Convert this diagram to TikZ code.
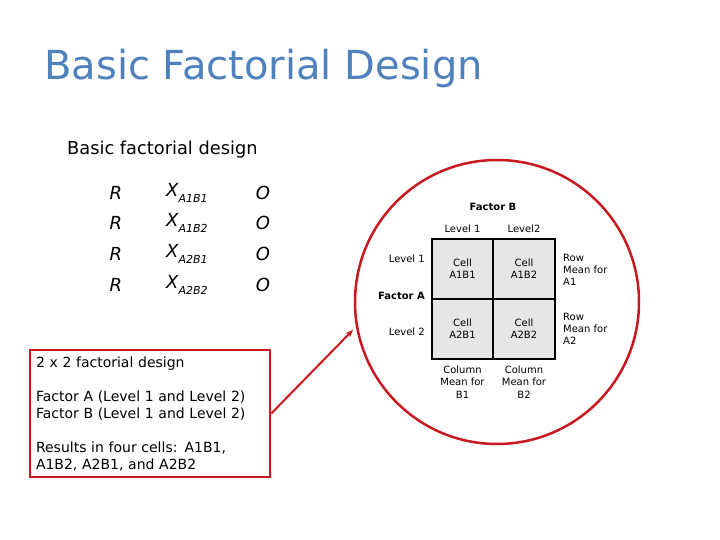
\documentclass[tikz,border=0pt]{standalone}
\usepackage{fontspec}
\setmainfont{DejaVu Sans}
\usetikzlibrary{positioning,arrows.meta}
\definecolor{titleblue}{RGB}{79,129,189}
\definecolor{markred}{RGB}{200,24,32}
\definecolor{cellgray}{RGB}{230,230,230}

\tikzset{
  tiny/.style={font=\fontsize{10}{12.2}\selectfont, inner sep=0pt, align=center},
  tinybold/.style={tiny, font=\fontsize{10}{12.2}\selectfont\bfseries},
  design/.style={font=\fontsize{18}{20}\selectfont\itshape, inner sep=0pt},
  cellbox/.style={tiny, draw=black, line width=2pt, fill=cellgray,
    minimum width=61.5, minimum height=60},
  redline/.style={draw=markred, line width=2.5pt},
}

\begin{document}
\begin{tikzpicture}[x=1pt,y=-1pt]
			\useasboundingbox (0,0) rectangle (720,540);
			% headings
			\node[anchor=west, text=titleblue, font=\fontsize{40}{46}\selectfont, inner sep=0pt] (title) at (44,68) {Basic Factorial Design};
			\node[anchor=west, font=\fontsize{17.8}{20}\selectfont, inner sep=0pt] (sub) at (67,150) {Basic factorial design};
			% design notation
			\foreach \y/\s [count=\i] in {193/A1B1,223/A1B2,254/A2B1,285/A2B2}{
				\node[design] (r\i) at (116,\y) {R};
				\node[design, anchor=west] (x\i) at (166,\y) {X\raisebox{-0.33em}{\fontsize{11}{11}\selectfont\itshape\s}};
				\node[design] (o\i) at (263,\y) {O};
			}
			% 2x2 table
			\node[cellbox] (c11) at (462.5,268.5) {Cell\\A1B1};
			\node[cellbox] (c12) at (524,268.5) {Cell\\A1B2};
			\node[cellbox] (c21) at (462.5,328.5) {Cell\\A2B1};
			\node[cellbox] (c22) at (524,328.5) {Cell\\A2B2};
			\node[tinybold] (fb) at (493,207) {Factor B};
			\node[tiny] (b1) at (462.5,229) {Level 1};
			\node[tiny] (b2) at (524,229) {Level2};
			\node[tiny, anchor=east] (a1) at (425,259) {Level 1};
			\node[tinybold, anchor=east] (fa) at (425,296) {Factor A};
			\node[tiny, anchor=east] (a2) at (425,332) {Level 2};
			\node[tiny, anchor=west, align=left] (rm1) at (563,270) {Row\\Mean for\\A1};
			\node[tiny, anchor=west, align=left] (rm2) at (563,329) {Row\\Mean for\\A2};
			\node[tiny] (cm1) at (462.5,382) {Column\\Mean for\\B1};
			\node[tiny] (cm2) at (524,382) {Column\\Mean for\\B2};
			% callout
			\node[redline, circle, minimum size=284] (lens) at (497,302) {};
			\node[redline, rectangle, minimum width=240, minimum height=127, inner sep=6pt,
				text width=228, align=left, font=\fontsize{14}{17}\selectfont] (note) at (150,413.5)
				{2 x 2 factorial design\\ \mbox{}\\ Factor A (Level 1 and Level 2)\\ Factor B (Level 1 and Level 2)\\ \mbox{}\\ Results in four cells: A1B1,\\ A1B2, A2B1, and A2B2};
			\draw[markred, line width=2pt, -{Stealth[length=8pt,width=6pt]}, shorten >=4pt] (note.east) -- (lens.190);
		\end{tikzpicture}
\end{document}
